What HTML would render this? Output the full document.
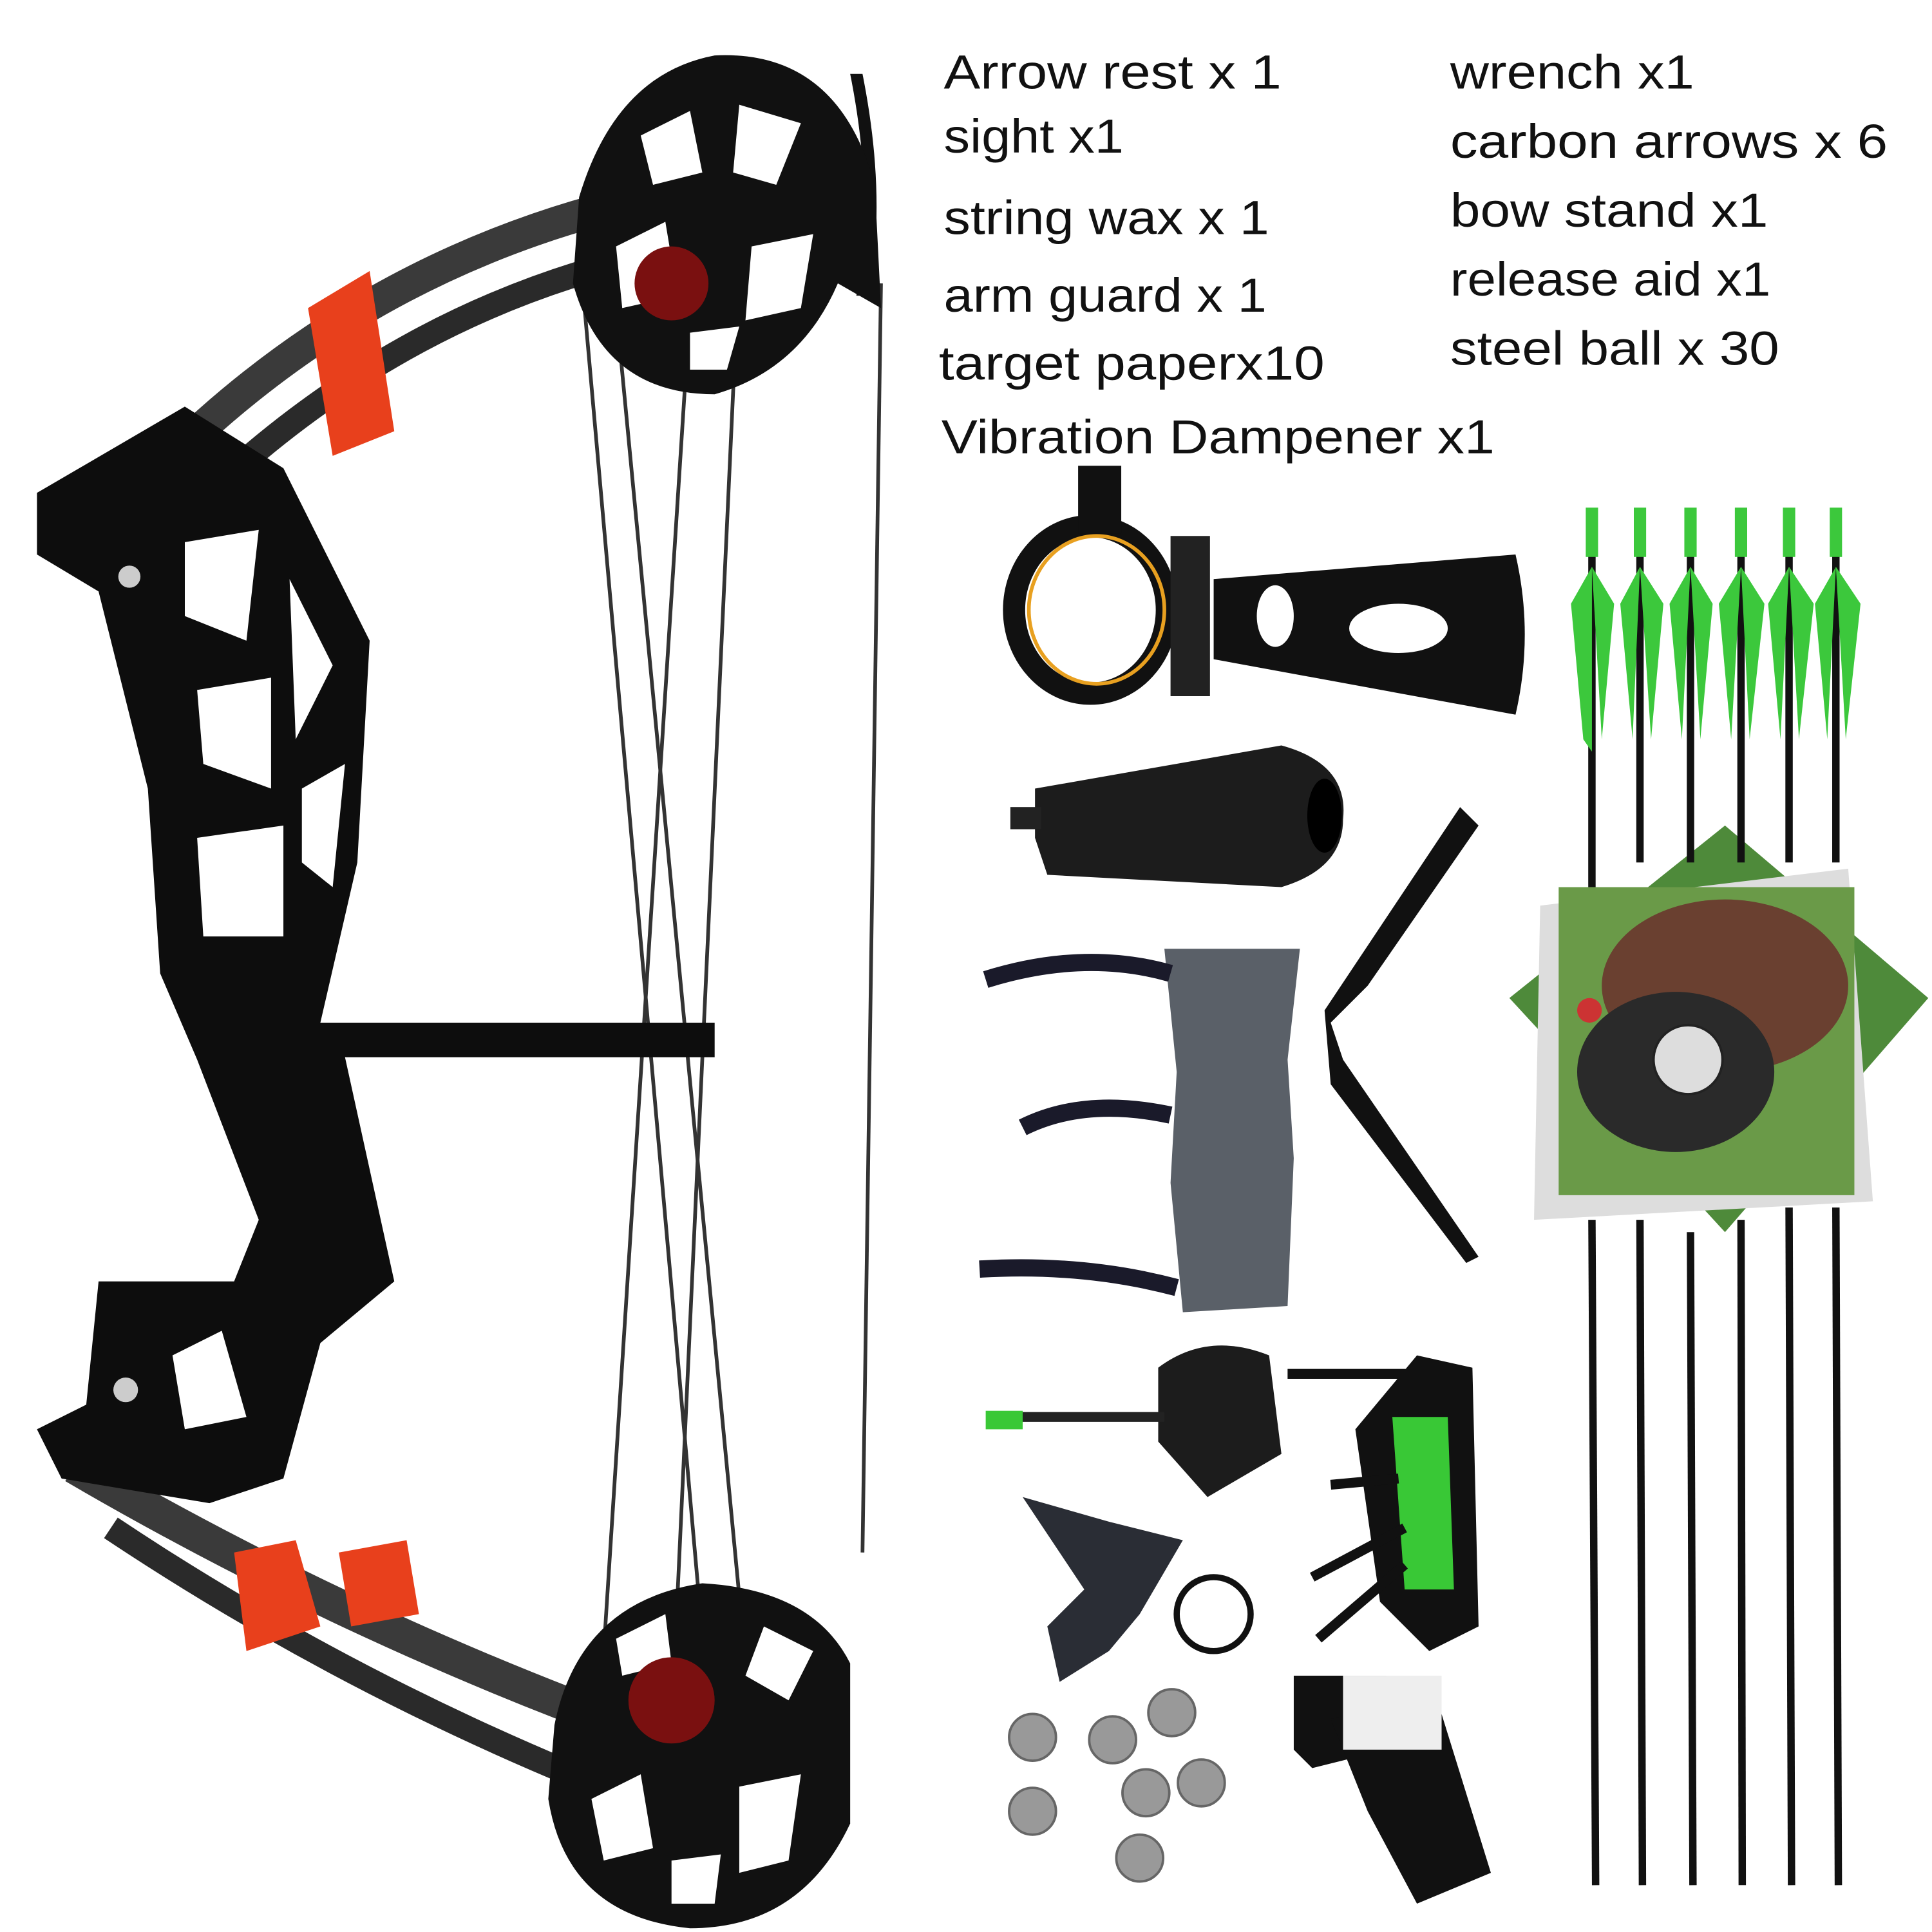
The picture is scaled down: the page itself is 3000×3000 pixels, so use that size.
<!DOCTYPE html>
<html><head><meta charset="utf-8"><style>
html,body{margin:0;padding:0;background:#fff;}
svg{display:block;}
text{font-family:"Liberation Sans",sans-serif;font-size:39px;fill:#111;}
</style></head><body>
<svg width="3000" height="3000" viewBox="0 0 1568 1568" xmlns="http://www.w3.org/2000/svg">
<rect width="1568" height="1568" fill="#fff"/>
<text x="766" y="72" textLength="274" lengthAdjust="spacingAndGlyphs">Arrow rest x 1</text>
<text x="766" y="124" textLength="146" lengthAdjust="spacingAndGlyphs">sight x1</text>
<text x="766" y="190" textLength="264" lengthAdjust="spacingAndGlyphs">string wax x 1</text>
<text x="766" y="253" textLength="262" lengthAdjust="spacingAndGlyphs">arm guard x 1</text>
<text x="762" y="308" textLength="313" lengthAdjust="spacingAndGlyphs">target paperx10</text>
<text x="764" y="368" textLength="449" lengthAdjust="spacingAndGlyphs">Vibration Dampener x1</text>
<text x="1177" y="72" textLength="198" lengthAdjust="spacingAndGlyphs">wrench x1</text>
<text x="1177" y="128" textLength="355" lengthAdjust="spacingAndGlyphs">carbon arrows x 6</text>
<text x="1177" y="184" textLength="258" lengthAdjust="spacingAndGlyphs">bow stand x1</text>
<text x="1177" y="240" textLength="260" lengthAdjust="spacingAndGlyphs">release aid x1</text>
<text x="1177" y="296" textLength="267" lengthAdjust="spacingAndGlyphs">steel ball x 30</text>

<g stroke="#333" stroke-width="3" fill="none">
<line x1="715" y1="230" x2="700" y2="1260"/>
<line x1="560" y1="250" x2="490" y2="1340"/>
<line x1="600" y1="210" x2="545" y2="1400"/>
<line x1="470" y1="200" x2="580" y2="1440"/>
<line x1="500" y1="250" x2="610" y2="1400"/>
</g>
<path d="M705 240 Q720 160 700 60 L690 60 Q710 160 695 240Z" fill="#111"/>
<path d="M150 360 Q330 190 580 150" stroke="#3a3a3a" stroke-width="26" fill="none"/>
<path d="M170 400 Q340 240 560 200" stroke="#2a2a2a" stroke-width="20" fill="none"/>
<path d="M60 1190 Q300 1330 560 1420" stroke="#3a3a3a" stroke-width="28" fill="none"/>
<path d="M90 1240 Q300 1380 540 1470" stroke="#2a2a2a" stroke-width="20" fill="none"/>
<!-- cams with holes -->
<g>
<path d="M470 160 Q500 60 580 45 Q680 40 710 150 L715 250 L680 230 Q650 300 580 320 Q490 320 465 230Z" fill="#111"/>
<g fill="#fff">
<path d="M520 110 L560 90 L570 140 L530 150Z"/><path d="M600 85 L650 100 L630 150 L595 140Z"/>
<path d="M500 200 L540 180 L550 240 L505 250Z"/><path d="M610 200 L660 190 L650 250 L605 260Z"/>
<path d="M560 270 L600 265 L590 300 L560 300Z"/>
</g>
<circle cx="545" cy="230" r="30" fill="#7a1010"/>
</g>
<g>
<path d="M450 1400 Q470 1300 570 1285 Q660 1290 690 1350 L690 1480 Q650 1565 560 1565 Q460 1555 445 1460Z" fill="#111"/>
<g fill="#fff">
<path d="M500 1330 L540 1310 L545 1350 L505 1360Z"/><path d="M620 1320 L660 1340 L640 1380 L605 1360Z"/>
<path d="M480 1460 L520 1440 L530 1500 L490 1510Z"/><path d="M600 1450 L650 1440 L640 1510 L600 1520Z"/>
<path d="M545 1510 L585 1505 L580 1545 L545 1545Z"/>
</g>
<circle cx="545" cy="1380" r="35" fill="#7a1010"/>
</g>
<path d="M30 400 L150 330 L230 380 L300 520 L290 700 L260 830 L580 830 L580 858 L280 858 L320 1040 L260 1090 L230 1200 L170 1220 L50 1200 L30 1160 L70 1140 L80 1040 L190 1040 L210 990 L160 860 L130 790 L120 640 L80 480 L30 450Z" fill="#0d0d0d"/>
<g fill="#fff">
<path d="M150 440 L210 430 L200 520 L150 500Z"/><path d="M160 560 L220 550 L220 640 L165 620Z"/>
<path d="M160 680 L230 670 L230 760 L165 760Z"/><path d="M235 470 L270 540 L240 600Z"/>
<path d="M245 640 L280 620 L270 720 L245 700Z"/><path d="M140 1100 L180 1080 L200 1150 L150 1160Z"/>
</g>
<circle cx="105" cy="468" r="9" fill="#ccc"/><circle cx="102" cy="1128" r="10" fill="#ccc"/>
<path d="M250 250 L300 220 L320 350 L270 370Z" fill="#e8401c"/>
<path d="M190 1260 L240 1250 L260 1320 L200 1340Z" fill="#e8401c"/>
<path d="M275 1260 L330 1250 L340 1310 L285 1320Z" fill="#e8401c"/>
<!-- sight -->
<ellipse cx="885" cy="495" rx="62" ry="68" fill="none" stroke="#111" stroke-width="18"/>
<ellipse cx="890" cy="495" rx="55" ry="60" fill="none" stroke="#e8a020" stroke-width="3"/>
<rect x="875" y="378" width="35" height="55" fill="#111"/>
<rect x="950" y="435" width="32" height="130" fill="#222"/>
<path d="M985 470 L1230 450 Q1245 515 1230 580 L985 535Z" fill="#111"/>
<ellipse cx="1135" cy="510" rx="40" ry="20" fill="#fff"/>
<ellipse cx="1035" cy="500" rx="15" ry="25" fill="#fff"/>
<!-- dampener -->
<path d="M840 640 L1040 605 Q1095 620 1090 665 Q1090 705 1040 720 L850 710 L840 680Z" fill="#1c1c1c"/>
<ellipse cx="1075" cy="662" rx="14" ry="30" fill="#000"/>
<rect x="820" y="655" width="25" height="18" fill="#222"/>
<!-- arm guard -->
<path d="M945 770 L1055 770 L1045 860 L1050 940 L1045 1060 L960 1065 L950 960 L955 870Z" fill="#5a6068"/>
<g stroke="#1a1a2a" stroke-width="14" fill="none">
<path d="M800 795 Q880 770 950 790"/><path d="M830 915 Q880 890 950 905"/><path d="M795 1030 Q880 1025 955 1045"/>
</g>
<!-- bow stand -->
<path d="M1185 655 L1200 670 L1110 800 L1080 830 L1090 860 L1200 1020 L1190 1025 L1080 880 L1075 820Z" fill="#111"/>
<!-- release aid -->
<path d="M940 1110 Q980 1080 1030 1100 L1040 1180 L980 1215 L940 1170Z" fill="#1c1c1c"/>
<line x1="810" y1="1150" x2="945" y2="1150" stroke="#222" stroke-width="8"/>
<rect x="800" y="1145" width="30" height="15" fill="#39c836"/>
<!-- wrench -->
<path d="M1150 1100 L1195 1110 L1200 1320 L1160 1340 L1120 1300 L1100 1160Z" fill="#111"/>
<path d="M1130 1150 L1175 1150 L1180 1290 L1140 1290Z" fill="#39c836"/>
<g stroke="#111" stroke-width="8"><line x1="1045" y1="1115" x2="1150" y2="1115"/><line x1="1065" y1="1280" x2="1140" y2="1240"/><line x1="1070" y1="1330" x2="1140" y2="1270"/><line x1="1080" y1="1205" x2="1135" y2="1200"/></g>
<!-- release -->
<path d="M830 1215 L900 1235 L960 1250 L925 1310 L900 1340 L860 1365 L850 1320 L880 1290Z" fill="#2a2d35"/>
<circle cx="985" cy="1310" r="30" fill="none" stroke="#111" stroke-width="5"/>
<g fill="#999" stroke="#666" stroke-width="2">
<circle cx="838" cy="1410" r="19"/><circle cx="903" cy="1412" r="19"/><circle cx="951" cy="1390" r="19"/>
<circle cx="930" cy="1455" r="19"/><circle cx="975" cy="1447" r="19"/><circle cx="838" cy="1470" r="19"/><circle cx="925" cy="1508" r="19"/>
</g>
<!-- string wax -->
<path d="M1050 1360 L1125 1360 L1125 1420 L1065 1435 L1050 1420Z" fill="#111"/>
<path d="M1080 1395 L1165 1375 L1210 1520 L1150 1545 L1110 1470Z" fill="#111"/>
<rect x="1090" y="1360" width="80" height="60" fill="#eee"/>
<!-- target papers -->
<path d="M1225 810 L1400 670 L1565 810 L1400 1000Z" fill="#4e8a3a"/>
<path d="M1245 990 L1250 735 L1500 705 L1520 975Z" fill="#ddd"/>
<rect x="1265" y="720" width="240" height="250" fill="#6a9a48"/>
<ellipse cx="1400" cy="800" rx="100" ry="70" fill="#6a4030"/>
<ellipse cx="1360" cy="870" rx="80" ry="65" fill="#2a2a2a"/>
<circle cx="1370" cy="860" r="28" fill="#ddd" stroke="#222" stroke-width="2"/>
<circle cx="1290" cy="820" r="10" fill="#c33"/>
<g stroke="#111" stroke-width="6">
<line x1="1292" y1="420" x2="1292" y2="720"/><line x1="1331" y1="420" x2="1331" y2="700"/><line x1="1372" y1="420" x2="1372" y2="700"/>
<line x1="1413" y1="420" x2="1413" y2="700"/><line x1="1452" y1="420" x2="1452" y2="700"/><line x1="1490" y1="420" x2="1490" y2="700"/>
<line x1="1292" y1="990" x2="1295" y2="1530"/><line x1="1331" y1="990" x2="1333" y2="1530"/><line x1="1372" y1="1000" x2="1374" y2="1530"/>
<line x1="1413" y1="990" x2="1414" y2="1530"/><line x1="1452" y1="980" x2="1454" y2="1530"/><line x1="1490" y1="980" x2="1492" y2="1530"/>
</g>
<g fill="#3cc83c">
<path d="M1292 460 L1275 490 L1285 600 L1292 610Z"/><path d="M1292 460 L1310 490 L1300 600Z"/>
<path d="M1331 460 L1315 490 L1325 600Z"/><path d="M1331 460 L1350 490 L1340 600Z"/>
<path d="M1372 460 L1355 490 L1365 600Z"/><path d="M1372 460 L1390 490 L1380 600Z"/>
<path d="M1413 460 L1395 490 L1405 600Z"/><path d="M1413 460 L1432 490 L1420 600Z"/>
<path d="M1452 460 L1435 490 L1445 600Z"/><path d="M1452 460 L1472 490 L1460 600Z"/>
<path d="M1490 460 L1473 490 L1483 600Z"/><path d="M1490 460 L1510 490 L1498 600Z"/>
<rect x="1287" y="412" width="10" height="40"/><rect x="1326" y="412" width="10" height="40"/><rect x="1367" y="412" width="10" height="40"/>
<rect x="1408" y="412" width="10" height="40"/><rect x="1447" y="412" width="10" height="40"/><rect x="1485" y="412" width="10" height="40"/>
</g>
</svg>
</body></html>
